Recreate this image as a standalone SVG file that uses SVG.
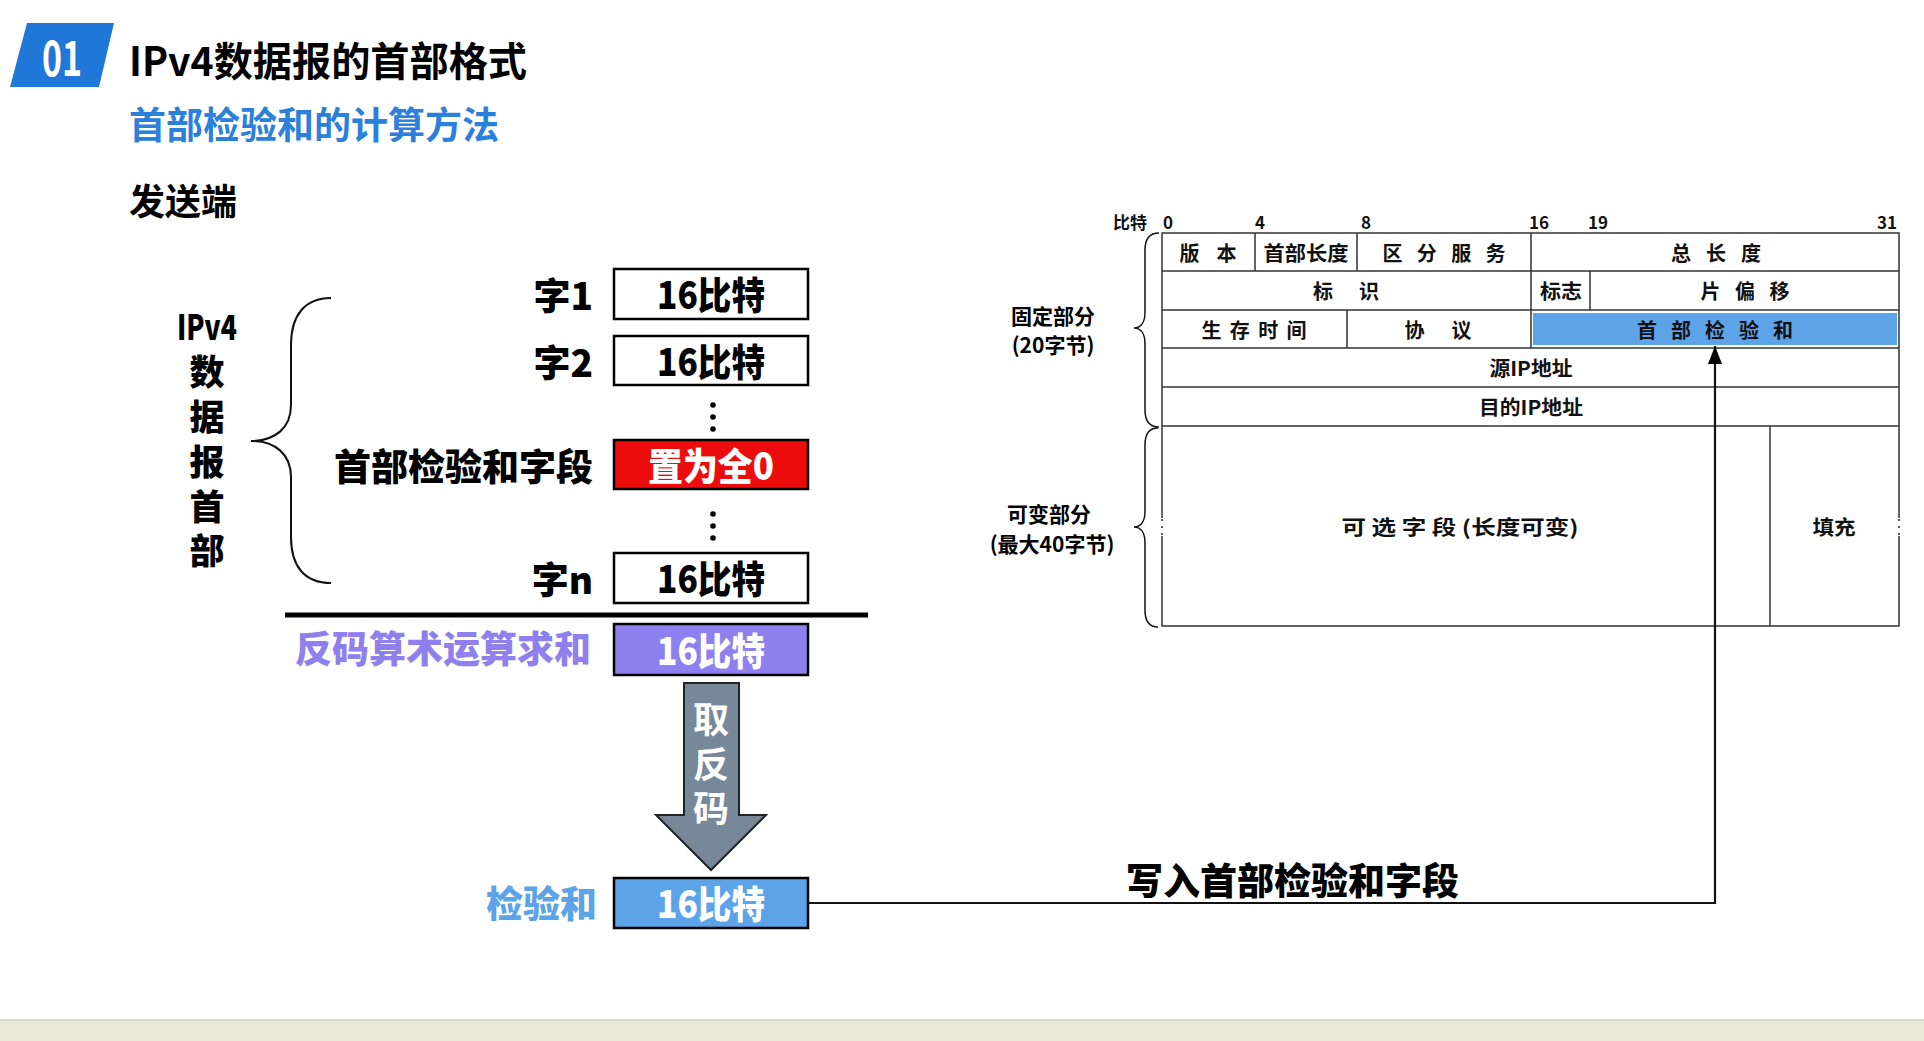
<svg xmlns="http://www.w3.org/2000/svg" width="1924" height="1041" viewBox="0 0 1924 1041">
<style>
text{font-family:"Noto Sans CJK SC","Noto Sans",sans-serif;font-weight:700;dominant-baseline:central}
.big{font-size:37px;font-weight:900}
.k{fill:#000}
.pu{fill:#8f80ee}
.bl{fill:#5ca3e8}
.box{stroke:#000;stroke-width:2.5}
.bt{font-size:38px;text-anchor:middle;font-weight:900}
.tl{stroke:#333;stroke-width:1.5;fill:none}
.tt{font-size:20px;fill:#111;text-anchor:middle}
.hn{font-size:17px;fill:#111}
.br{stroke:#111;stroke-width:2;fill:none}
.br2{stroke:#111;stroke-width:1.5;fill:none}
.vl{font-size:35px;text-anchor:middle;font-weight:900}
</style>
<defs>
<marker id="ah" viewBox="0 0 18 14" refX="18" refY="7" markerWidth="18" markerHeight="14" markerUnits="userSpaceOnUse" orient="auto">
<path d="M0,0 L18,7 L0,14 z" fill="#000"/>
</marker>
</defs>
<rect width="1924" height="1041" fill="#fff"/>
<rect x="0" y="1020" width="1924" height="21" fill="#ebead9"/>
<line x1="0" y1="1020" x2="1924" y2="1020" stroke="#cfcfc2" stroke-width="1.5"/>

<g id="header">
<polygon points="27,23 114,23 99,87 10,87" fill="#1f78d8"/>
<text x="62" y="55" font-size="48" font-weight="900" fill="#fff" text-anchor="middle" textLength="40" lengthAdjust="spacingAndGlyphs">01</text>
<text x="129" y="59" font-size="40" font-weight="900" fill="#000" textLength="398" lengthAdjust="spacingAndGlyphs">IPv4数据报的首部格式</text>
<text x="129" y="123" font-size="37" font-weight="900" fill="#2b80dc">首部检验和的计算方法</text>
<text x="129" y="199" font-size="36" font-weight="900" fill="#000">发送端</text>
</g>

<g id="ipv4-label">
<text class="vl" x="207" y="324" textLength="60" lengthAdjust="spacingAndGlyphs">IPv4</text>
<text class="vl" x="207" y="369">数</text>
<text class="vl" x="207" y="414">据</text>
<text class="vl" x="207" y="459">报</text>
<text class="vl" x="207" y="504">首</text>
<text class="vl" x="207" y="548">部</text>
<path class="br" d="M331,298 C305,298 291,315 291,345 L291,405 C291,428 275,441 251,441 C275,441 291,454 291,477 L291,537 C291,567 305,583 331,583"/>
</g>

<g id="word1">
<text class="big k" x="593" y="294" text-anchor="end">字1</text>
<rect class="box" x="614" y="269" width="194" height="50" fill="#fff"/>
<text class="bt" x="711" y="292" textLength="108" lengthAdjust="spacingAndGlyphs">16比特</text>
</g>
<g id="word2">
<text class="big k" x="593" y="361" text-anchor="end">字2</text>
<rect class="box" x="614" y="336" width="194" height="49" fill="#fff"/>
<text class="bt" x="711" y="359" textLength="108" lengthAdjust="spacingAndGlyphs">16比特</text>
</g>
<g id="dots1">
<circle cx="713" cy="405" r="2.8"/><circle cx="713" cy="417" r="2.8"/><circle cx="713" cy="429" r="2.8"/>
</g>
<g id="checksum-field">
<text class="big k" x="593" y="465" text-anchor="end">首部检验和字段</text>
<rect class="box" x="614" y="440" width="194" height="49" fill="#ec0c0c"/>
<text class="bt" x="711" y="463" fill="#fff" font-size="37" textLength="126" lengthAdjust="spacingAndGlyphs">置为全0</text>
</g>
<g id="dots2">
<circle cx="713" cy="514" r="2.8"/><circle cx="713" cy="526" r="2.8"/><circle cx="713" cy="538" r="2.8"/>
</g>
<g id="wordn">
<text class="big k" x="593" y="578" text-anchor="end">字n</text>
<rect class="box" x="614" y="553" width="194" height="50" fill="#fff"/>
<text class="bt" x="711" y="576" textLength="108" lengthAdjust="spacingAndGlyphs">16比特</text>
</g>
<g id="sum-line">
<line x1="285" y1="615" x2="868" y2="615" stroke="#000" stroke-width="5"/>
</g>
<g id="sum">
<text class="big pu" x="591" y="647" text-anchor="end">反码算术运算求和</text>
<rect class="box" x="614" y="624" width="194" height="51" fill="#8f80ef"/>
<text class="bt" x="711" y="648" fill="#fff" textLength="108" lengthAdjust="spacingAndGlyphs">16比特</text>
</g>
<g id="invert">
<polygon points="684,683 739,683 739,815 766,815 711,870 656,815 684,815" fill="#778899" stroke="#222" stroke-width="2"/>
<text x="711" y="717" font-size="36" font-weight="900" fill="#fff" text-anchor="middle">取</text>
<text x="711" y="762" font-size="36" font-weight="900" fill="#fff" text-anchor="middle">反</text>
<text x="711" y="806" font-size="36" font-weight="900" fill="#fff" text-anchor="middle">码</text>
</g>
<g id="checksum">
<text class="big bl" x="597" y="902" text-anchor="end">检验和</text>
<rect class="box" x="614" y="878" width="194" height="50" fill="#5ca3e8"/>
<text class="bt" x="711" y="901" fill="#fff" textLength="108" lengthAdjust="spacingAndGlyphs">16比特</text>
</g>

<g id="ip-header">
<text class="hn" x="1113" y="221">比特</text>
<text class="hn" x="1163" y="221">0</text>
<text class="hn" x="1255" y="221">4</text>
<text class="hn" x="1361" y="221">8</text>
<text class="hn" x="1529" y="221">16</text>
<text class="hn" x="1588" y="221">19</text>
<text class="hn" x="1877" y="221">31</text>
<rect x="1533" y="313" width="364" height="32" fill="#5ca3e8"/>
<path class="tl" d="M1162,233 H1899 V626 H1162 Z M1162,271 H1899 M1162,310 H1899 M1162,348 H1899 M1162,387 H1899 M1162,426 H1899 M1255,233 V271 M1357,233 V271 M1531,233 V348 M1590,271 V310 M1347,310 V348 M1770,426 V626"/>
<rect x="1160" y="518" width="4" height="18" fill="#fff"/>
<rect x="1897" y="518" width="4" height="18" fill="#fff"/>
<circle cx="1162" cy="520" r="1.1" fill="#333"/><circle cx="1162" cy="527" r="1.1" fill="#333"/><circle cx="1162" cy="534" r="1.1" fill="#333"/>
<circle cx="1899" cy="520" r="1.1" fill="#333"/><circle cx="1899" cy="527" r="1.1" fill="#333"/><circle cx="1899" cy="534" r="1.1" fill="#333"/>
<text class="tt" x="1208" y="252" textLength="57" lengthAdjust="spacing">版本</text>
<text class="tt" x="1306" y="252" textLength="85" lengthAdjust="spacingAndGlyphs">首部长度</text>
<text class="tt" x="1444" y="252" textLength="123" lengthAdjust="spacing">区分服务</text>
<text class="tt" x="1716" y="252" textLength="90" lengthAdjust="spacing">总长度</text>
<text class="tt" x="1346" y="290" textLength="66" lengthAdjust="spacing">标识</text>
<text class="tt" x="1561" y="290" textLength="42" lengthAdjust="spacingAndGlyphs">标志</text>
<text class="tt" x="1745" y="290" textLength="89" lengthAdjust="spacing">片偏移</text>
<text class="tt" x="1254" y="329" textLength="105" lengthAdjust="spacing">生存时间</text>
<text class="tt" x="1438" y="329" textLength="67" lengthAdjust="spacing">协议</text>
<text class="tt" x="1715" y="329" textLength="156" lengthAdjust="spacing">首部检验和</text>
<text class="tt" x="1531" y="367" textLength="83" lengthAdjust="spacingAndGlyphs">源IP地址</text>
<text class="tt" x="1531" y="406" textLength="104" lengthAdjust="spacingAndGlyphs">目的IP地址</text>
<text class="tt" x="1460" y="526" textLength="237" lengthAdjust="spacingAndGlyphs">可 选 字 段 (长度可变)</text>
<text class="tt" x="1834" y="526" textLength="43" lengthAdjust="spacingAndGlyphs">填充</text>
<path class="br2" d="M1159,233 C1148,233 1145,240 1145,250 L1145,312 C1145,322 1141,328 1134,328 C1141,328 1145,334 1145,344 L1145,410 C1145,420 1148,427 1159,427"/>
<path class="br2" d="M1158,428 C1148,428 1145,435 1145,445 L1145,511 C1145,521 1141,527 1134,527 C1141,527 1145,533 1145,543 L1145,610 C1145,620 1148,627 1158,627"/>
<text x="1053" y="315" font-size="21" text-anchor="middle">固定部分</text>
<text x="1053" y="344" font-size="21" text-anchor="middle">(20字节)</text>
<text x="1049" y="513" font-size="21" text-anchor="middle">可变部分</text>
<text x="1052" y="543" font-size="21" text-anchor="middle">(最大40字节)</text>
</g>

<g id="write-label">
<text class="big k" x="1126" y="879">写入首部检验和字段</text>
</g>

<g id="connectors">
<path d="M808,903 H1715 V346" fill="none" stroke="#111" stroke-width="2.2" marker-end="url(#ah)"/>
</g>
</svg>
